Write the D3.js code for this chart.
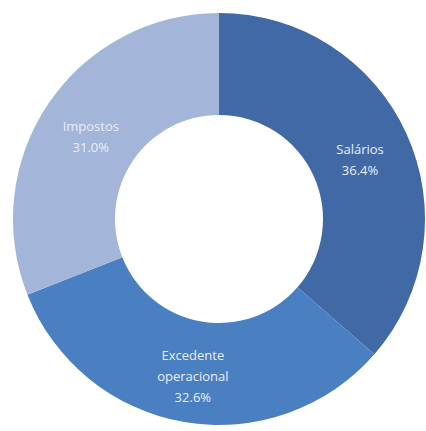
<!DOCTYPE html>
<html>
<head>
<meta charset="utf-8">
<script src="https://cdn.jsdelivr.net/npm/d3@7"></script>
<style>
  body { margin: 0; background: #fff; }
  text { font-family: "Open Sans", "Noto Sans", sans-serif; }
</style>
</head>
<body>
<div id="chart"></div>
<script>
const labels = [["Salários"], ["Excedente", "operacional"], ["Impostos"]];
const values = [36.4, 32.6, 31.0];
const colors = ["#4169a6", "#4a7fc1", "#a3b5d8"];

const width = 426, height = 431;
const cx = 219, cy = 219;
const outerR = 206, innerR = 104;

const svg = d3.select("#chart").append("svg")
    .attr("width", width)
    .attr("height", height)
  .append("g")
    .attr("transform", `translate(${cx}, ${cy})`);

const pie = d3.pie().sort(null).value(d => d);
const arc = d3.arc().innerRadius(innerR).outerRadius(outerR);

const arcs = pie(values);

svg.selectAll("path")
  .data(arcs)
  .join("path")
    .attr("d", arc)
    .attr("fill", (d, i) => colors[i]);

// labels at slice centroid, nudged down a bit
const lineH = 21;
const lbl = svg.selectAll("g.lbl")
  .data(arcs)
  .join("g")
    .attr("class", "lbl")
    .attr("transform", d => {
        const [x, y] = arc.centroid(d);
        return `translate(${x}, ${y + 5})`;
    });

lbl.each(function(d, i) {
    const lines = labels[i].concat([d3.format(".1f")(values[i]) + "%"]);
    const t = d3.select(this).append("text")
        .attr("text-anchor", "middle")
        .attr("fill", "#e8eef8")
        .style("font-size", "13px");
    const y0 = -(lines.length - 1) * lineH / 2;
    lines.forEach((s, j) => {
        t.append("tspan")
            .attr("x", 0)
            .attr("y", y0 + j * lineH)
            .attr("dy", "0.35em")
            .text(s);
    });
});
</script>
</body>
</html>
